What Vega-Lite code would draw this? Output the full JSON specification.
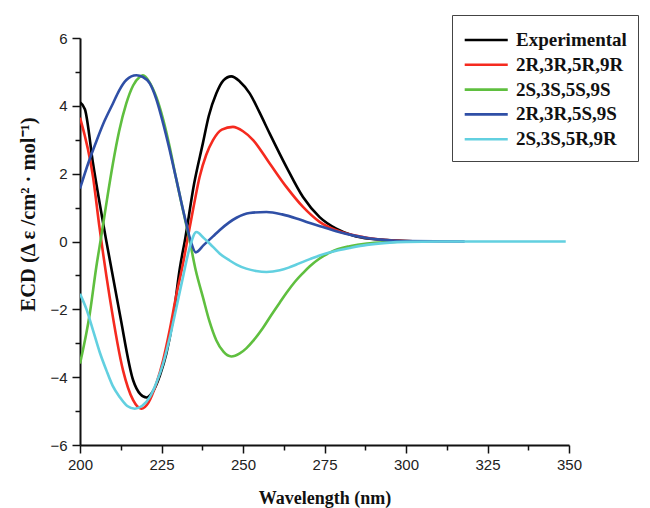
{
  "$schema": "https://vega.github.io/schema/vega-lite/v6.json",
  "autosize": {"type": "none"},
  "width": 489,
  "height": 407,
  "padding": {"left": 80, "top": 38, "right": 81, "bottom": 63},
  "background": "white",
  "config": {"view": {"stroke": null}},
  "data": {"values": [
    {"s":"Experimental","w":200,"e":4.1},{"s":"Experimental","w":201.5,"e":3.9},{"s":"Experimental","w":204,"e":2.3},{"s":"Experimental","w":208.1,"e":0},{"s":"Experimental","w":212.2,"e":-2.13},{"s":"Experimental","w":216.3,"e":-4.09},{"s":"Experimental","w":218.5,"e":-4.5},{"s":"Experimental","w":220.4,"e":-4.6},{"s":"Experimental","w":222.5,"e":-4.4},{"s":"Experimental","w":224.5,"e":-3.95},{"s":"Experimental","w":226.5,"e":-3.3},{"s":"Experimental","w":228.5,"e":-2.3},{"s":"Experimental","w":230.6,"e":-0.8},{"s":"Experimental","w":232.3,"e":0.1},{"s":"Experimental","w":235,"e":1.7},{"s":"Experimental","w":237.7,"e":2.9},{"s":"Experimental","w":239.5,"e":3.7},{"s":"Experimental","w":241.8,"e":4.36},{"s":"Experimental","w":244,"e":4.75},{"s":"Experimental","w":246.4,"e":4.87},{"s":"Experimental","w":249,"e":4.72},{"s":"Experimental","w":252.1,"e":4.36},{"s":"Experimental","w":255,"e":3.82},{"s":"Experimental","w":258.2,"e":3.18},{"s":"Experimental","w":263.3,"e":2.2},{"s":"Experimental","w":268.4,"e":1.31},{"s":"Experimental","w":273.5,"e":0.72},{"s":"Experimental","w":278.6,"e":0.38},{"s":"Experimental","w":283.7,"e":0.18},{"s":"Experimental","w":289,"e":0.08},{"s":"Experimental","w":294,"e":0.04},{"s":"Experimental","w":300,"e":0.01},{"s":"Experimental","w":305,"e":0},

    {"s":"2R,3R,5R,9R","w":200,"e":3.65},{"s":"2R,3R,5R,9R","w":204,"e":1.9},{"s":"2R,3R,5R,9R","w":206,"e":0.4},{"s":"2R,3R,5R,9R","w":209.1,"e":-1.64},{"s":"2R,3R,5R,9R","w":213.2,"e":-3.8},{"s":"2R,3R,5R,9R","w":216.3,"e":-4.68},{"s":"2R,3R,5R,9R","w":218.8,"e":-4.93},{"s":"2R,3R,5R,9R","w":221,"e":-4.75},{"s":"2R,3R,5R,9R","w":223.4,"e":-4.19},{"s":"2R,3R,5R,9R","w":225.5,"e":-3.5},{"s":"2R,3R,5R,9R","w":227.5,"e":-2.62},{"s":"2R,3R,5R,9R","w":229.5,"e":-1.6},{"s":"2R,3R,5R,9R","w":231.6,"e":-0.65},{"s":"2R,3R,5R,9R","w":233.1,"e":0.13},{"s":"2R,3R,5R,9R","w":234.8,"e":1.0},{"s":"2R,3R,5R,9R","w":236.7,"e":1.91},{"s":"2R,3R,5R,9R","w":238.7,"e":2.55},{"s":"2R,3R,5R,9R","w":240.8,"e":2.99},{"s":"2R,3R,5R,9R","w":243.5,"e":3.3},{"s":"2R,3R,5R,9R","w":246.9,"e":3.38},{"s":"2R,3R,5R,9R","w":250,"e":3.25},{"s":"2R,3R,5R,9R","w":253.1,"e":2.99},{"s":"2R,3R,5R,9R","w":258.2,"e":2.3},{"s":"2R,3R,5R,9R","w":263.3,"e":1.61},{"s":"2R,3R,5R,9R","w":268.4,"e":1.02},{"s":"2R,3R,5R,9R","w":273.5,"e":0.58},{"s":"2R,3R,5R,9R","w":278.6,"e":0.33},{"s":"2R,3R,5R,9R","w":286.8,"e":0.13},{"s":"2R,3R,5R,9R","w":294,"e":0.04},{"s":"2R,3R,5R,9R","w":300,"e":0.01},{"s":"2R,3R,5R,9R","w":305,"e":0},

    {"s":"2S,3S,5S,9S","w":200,"e":-3.6},{"s":"2S,3S,5S,9S","w":203,"e":-2.13},{"s":"2S,3S,5S,9S","w":205,"e":-0.75},{"s":"2S,3S,5S,9S","w":206.6,"e":0.2},{"s":"2S,3S,5S,9S","w":208.3,"e":1.25},{"s":"2S,3S,5S,9S","w":210.1,"e":2.3},{"s":"2S,3S,5S,9S","w":212,"e":3.25},{"s":"2S,3S,5S,9S","w":214.2,"e":4.07},{"s":"2S,3S,5S,9S","w":216.3,"e":4.6},{"s":"2S,3S,5S,9S","w":218.3,"e":4.85},{"s":"2S,3S,5S,9S","w":219.3,"e":4.9},{"s":"2S,3S,5S,9S","w":221.3,"e":4.7},{"s":"2S,3S,5S,9S","w":223.4,"e":4.26},{"s":"2S,3S,5S,9S","w":225.5,"e":3.6},{"s":"2S,3S,5S,9S","w":227.5,"e":2.79},{"s":"2S,3S,5S,9S","w":229.5,"e":1.85},{"s":"2S,3S,5S,9S","w":231.6,"e":0.92},{"s":"2S,3S,5S,9S","w":233.5,"e":0.1},{"s":"2S,3S,5S,9S","w":235.5,"e":-0.85},{"s":"2S,3S,5S,9S","w":237.7,"e":-1.64},{"s":"2S,3S,5S,9S","w":239.7,"e":-2.35},{"s":"2S,3S,5S,9S","w":241.8,"e":-2.91},{"s":"2S,3S,5S,9S","w":244,"e":-3.25},{"s":"2S,3S,5S,9S","w":246.4,"e":-3.39},{"s":"2S,3S,5S,9S","w":249,"e":-3.3},{"s":"2S,3S,5S,9S","w":251,"e":-3.15},{"s":"2S,3S,5S,9S","w":253.1,"e":-2.93},{"s":"2S,3S,5S,9S","w":256.1,"e":-2.55},{"s":"2S,3S,5S,9S","w":258.2,"e":-2.24},{"s":"2S,3S,5S,9S","w":261.3,"e":-1.8},{"s":"2S,3S,5S,9S","w":263.3,"e":-1.52},{"s":"2S,3S,5S,9S","w":266,"e":-1.18},{"s":"2S,3S,5S,9S","w":268.4,"e":-0.93},{"s":"2S,3S,5S,9S","w":270.5,"e":-0.73},{"s":"2S,3S,5S,9S","w":273.5,"e":-0.5},{"s":"2S,3S,5S,9S","w":276.6,"e":-0.33},{"s":"2S,3S,5S,9S","w":279,"e":-0.23},{"s":"2S,3S,5S,9S","w":282.7,"e":-0.14},{"s":"2S,3S,5S,9S","w":288,"e":-0.06},{"s":"2S,3S,5S,9S","w":294,"e":-0.02},{"s":"2S,3S,5S,9S","w":300,"e":0},{"s":"2S,3S,5S,9S","w":305,"e":0},

    {"s":"2R,3R,5S,9S","w":200,"e":1.56},{"s":"2R,3R,5S,9S","w":202.5,"e":2.3},{"s":"2R,3R,5S,9S","w":205,"e":2.95},{"s":"2R,3R,5S,9S","w":207.5,"e":3.55},{"s":"2R,3R,5S,9S","w":210.1,"e":4.07},{"s":"2R,3R,5S,9S","w":212,"e":4.45},{"s":"2R,3R,5S,9S","w":214.2,"e":4.76},{"s":"2R,3R,5S,9S","w":217.3,"e":4.9},{"s":"2R,3R,5S,9S","w":219.3,"e":4.85},{"s":"2R,3R,5S,9S","w":221.4,"e":4.66},{"s":"2R,3R,5S,9S","w":223.4,"e":4.2},{"s":"2R,3R,5S,9S","w":225.5,"e":3.48},{"s":"2R,3R,5S,9S","w":227.5,"e":2.7},{"s":"2R,3R,5S,9S","w":229.6,"e":1.81},{"s":"2R,3R,5S,9S","w":231.1,"e":1.15},{"s":"2R,3R,5S,9S","w":232.6,"e":0.53},{"s":"2R,3R,5S,9S","w":234,"e":0.0},{"s":"2R,3R,5S,9S","w":235.5,"e":-0.32},{"s":"2R,3R,5S,9S","w":238,"e":-0.1},{"s":"2R,3R,5S,9S","w":240.8,"e":0.15},{"s":"2R,3R,5S,9S","w":242.9,"e":0.34},{"s":"2R,3R,5S,9S","w":248,"e":0.7},{"s":"2R,3R,5S,9S","w":252,"e":0.84},{"s":"2R,3R,5S,9S","w":257.2,"e":0.87},{"s":"2R,3R,5S,9S","w":262,"e":0.8},{"s":"2R,3R,5S,9S","w":266.4,"e":0.68},{"s":"2R,3R,5S,9S","w":270,"e":0.56},{"s":"2R,3R,5S,9S","w":274.5,"e":0.43},{"s":"2R,3R,5S,9S","w":278.6,"e":0.3},{"s":"2R,3R,5S,9S","w":283.7,"e":0.18},{"s":"2R,3R,5S,9S","w":289,"e":0.09},{"s":"2R,3R,5S,9S","w":294,"e":0.04},{"s":"2R,3R,5S,9S","w":300,"e":0.01},{"s":"2R,3R,5S,9S","w":318,"e":0},

    {"s":"2S,3S,5R,9R","w":200,"e":-1.54},{"s":"2S,3S,5R,9R","w":202,"e":-2.0},{"s":"2S,3S,5R,9R","w":204,"e":-2.62},{"s":"2S,3S,5R,9R","w":206,"e":-3.25},{"s":"2S,3S,5R,9R","w":208.1,"e":-3.8},{"s":"2S,3S,5R,9R","w":210,"e":-4.25},{"s":"2S,3S,5R,9R","w":212.2,"e":-4.59},{"s":"2S,3S,5R,9R","w":214.5,"e":-4.85},{"s":"2S,3S,5R,9R","w":216.8,"e":-4.93},{"s":"2S,3S,5R,9R","w":219,"e":-4.85},{"s":"2S,3S,5R,9R","w":221.4,"e":-4.59},{"s":"2S,3S,5R,9R","w":223.5,"e":-4.15},{"s":"2S,3S,5R,9R","w":225.5,"e":-3.6},{"s":"2S,3S,5R,9R","w":227.5,"e":-2.85},{"s":"2S,3S,5R,9R","w":229.6,"e":-1.93},{"s":"2S,3S,5R,9R","w":231.7,"e":-1.0},{"s":"2S,3S,5R,9R","w":233.7,"e":-0.16},{"s":"2S,3S,5R,9R","w":235.7,"e":0.28},{"s":"2S,3S,5R,9R","w":238,"e":0.1},{"s":"2S,3S,5R,9R","w":240.8,"e":-0.16},{"s":"2S,3S,5R,9R","w":242.9,"e":-0.36},{"s":"2S,3S,5R,9R","w":245.9,"e":-0.56},{"s":"2S,3S,5R,9R","w":248,"e":-0.68},{"s":"2S,3S,5R,9R","w":251,"e":-0.8},{"s":"2S,3S,5R,9R","w":254,"e":-0.87},{"s":"2S,3S,5R,9R","w":257.2,"e":-0.9},{"s":"2S,3S,5R,9R","w":261.3,"e":-0.85},{"s":"2S,3S,5R,9R","w":264,"e":-0.77},{"s":"2S,3S,5R,9R","w":266.4,"e":-0.68},{"s":"2S,3S,5R,9R","w":268.4,"e":-0.6},{"s":"2S,3S,5R,9R","w":270.5,"e":-0.52},{"s":"2S,3S,5R,9R","w":273.5,"e":-0.41},{"s":"2S,3S,5R,9R","w":278.6,"e":-0.27},{"s":"2S,3S,5R,9R","w":282.7,"e":-0.19},{"s":"2S,3S,5R,9R","w":288,"e":-0.1},{"s":"2S,3S,5R,9R","w":294,"e":-0.04},{"s":"2S,3S,5R,9R","w":300,"e":-0.01},{"s":"2S,3S,5R,9R","w":310,"e":0},{"s":"2S,3S,5R,9R","w":349,"e":0}
  ]},
  "mark": {"type": "line", "strokeWidth": 2.6, "interpolate": "monotone", "clip": true},
  "encoding": {
    "x": {
      "field": "w", "type": "quantitative",
      "scale": {"domain": [200, 350], "nice": false, "zero": false},
      "axis": {
        "title": "Wavelength (nm)",
        "values": [200, 212.5, 225, 237.5, 250, 262.5, 275, 287.5, 300, 312.5, 325, 337.5, 350],
        "labelExpr": "datum.value % 25 === 0 ? datum.label : ''",
        "format": "d",
        "grid": false,
        "domainColor": "#111", "domainWidth": 2,
        "tickColor": "#111", "tickWidth": 1.5,
        "tickSize": {"condition": {"test": "datum.value % 25 === 0", "value": 8}, "value": 5},
        "labelFont": "Liberation Sans", "labelFontSize": 15, "labelColor": "#222", "labelPadding": 4,
        "labelFlush": false, "labelOverlap": false,
        "titleFont": "Liberation Serif", "titleFontSize": 18, "titleFontWeight": "bold", "titleColor": "#111",
        "titlePadding": 17
      }
    },
    "y": {
      "field": "e", "type": "quantitative",
      "scale": {"domain": [-6, 6], "nice": false, "zero": false},
      "axis": {
        "title": "ECD (Δ ε /cm² · mol⁻¹)",
        "values": [-6, -5, -4, -3, -2, -1, 0, 1, 2, 3, 4, 5, 6],
        "labelExpr": "datum.value % 2 === 0 ? datum.label : ''",
        "grid": false,
        "domainColor": "#111", "domainWidth": 2,
        "tickColor": "#111", "tickWidth": 1.5,
        "tickSize": {"condition": {"test": "datum.value % 2 === 0", "value": 8}, "value": 5},
        "labelFont": "Liberation Sans", "labelFontSize": 15, "labelColor": "#222", "labelPadding": 5,
        "labelFlush": false, "labelOverlap": false,
        "titleFont": "Liberation Serif", "titleFontSize": 20.5, "titleFontWeight": "bold", "titleColor": "#111",
        "titleAngle": -90, "titleAlign": "center", "titleBaseline": "bottom",
        "titleX": -42, "titleY": 176
      }
    },
    "color": {
      "field": "s", "type": "nominal",
      "scale": {
        "domain": ["Experimental", "2R,3R,5R,9R", "2S,3S,5S,9S", "2R,3R,5S,9S", "2S,3S,5R,9R"],
        "range": ["#000000", "#f52a1f", "#5fbf3f", "#2f4fa6", "#62d0e0"]
      },
      "legend": {
        "title": null,
        "orient": "none", "legendX": 372, "legendY": -23,
        "symbolType": "M-1,0H2.5", "symbolSize": 605, "symbolStrokeWidth": 2.6,
        "labelFont": "Liberation Serif", "labelFontSize": 19, "labelFontWeight": "bold", "labelColor": "#111",
        "labelOffset": 25, "labelLimit": 300,
        "rowPadding": 0.8,
        "padding": 11,
        "strokeColor": "#444", "fillColor": "white"
      }
    }
  }
}
